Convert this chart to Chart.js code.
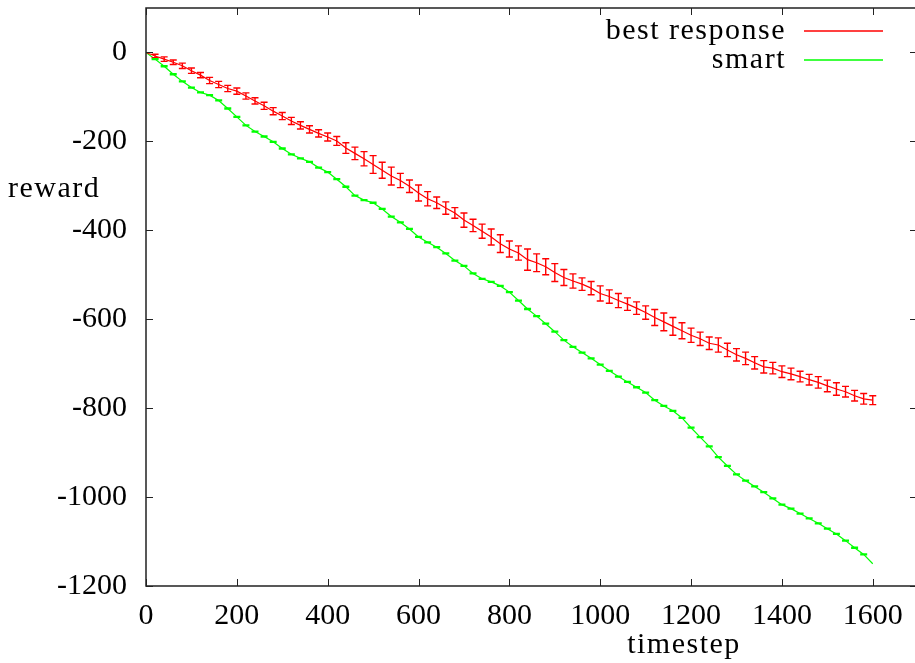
<!DOCTYPE html>
<html lang="en">

<head>
    <meta charset="UTF-8" />
    <title>reward vs timestep</title>
    <script src="https://cdn.jsdelivr.net/npm/chart.js"></script>
    <style>
        body {
            margin: 0;
            padding: 0;
            background: #fff;
        }
    </style>
</head>

<body>
    <canvas id="myChart" width="915" height="663"></canvas>

    <script>
        // timesteps sampled every 20
        const timesteps = [
            0, 20, 40, 60, 80, 100, 120, 140, 160, 180,
            200, 220, 240, 260, 280, 300, 320, 340, 360, 380,
            400, 420, 440, 460, 480, 500, 520, 540, 560, 580,
            600, 620, 640, 660, 680, 700, 720, 740, 760, 780,
            800, 820, 840, 860, 880, 900, 920, 940, 960, 980,
            1000, 1020, 1040, 1060, 1080, 1100, 1120, 1140, 1160, 1180,
            1200, 1220, 1240, 1260, 1280, 1300, 1320, 1340, 1360, 1380,
            1400, 1420, 1440, 1460, 1480, 1500, 1520, 1540, 1560, 1580,
            1600
        ];

        const bestResponse = [
            0, -8, -15, -22, -30, -41, -51, -63, -72, -81,
            -87, -98, -109, -120, -132, -143, -154, -164, -173, -182,
            -190, -199, -215, -227, -239, -252, -265, -278, -288, -301,
            -316, -329, -338, -350, -361, -377, -389, -402, -415, -430,
            -442, -451, -466, -473, -482, -495, -506, -514, -521, -530,
            -542, -549, -558, -566, -575, -585, -596, -606, -616, -626,
            -636, -644, -654, -658, -669, -680, -688, -698, -707, -710,
            -718, -723, -729, -736, -742, -750, -757, -763, -772, -779,
            -782
        ];

        const bestResponseErr = [
            0, 4, 5, 5, 6, 6, 6, 7, 7, 7,
            7, 7, 7, 8, 8, 8, 8, 8, 8, 8,
            9, 10, 12, 14, 16, 20, 18, 20, 16, 14,
            18, 16, 13, 14, 12, 16, 14, 16, 18, 20,
            18, 16, 24, 20, 18, 20, 18, 16, 14, 15,
            17, 15, 16, 14, 14, 15, 18, 20, 20, 18,
            16, 15, 14, 16, 15, 14, 14, 14, 14, 13,
            13, 13, 12, 12, 13, 13, 14, 12, 12, 12,
            10
        ];

        const smart = [
            0, -15, -31, -49, -65, -79, -90, -96, -108, -126,
            -145, -164, -178, -189, -201, -216, -229, -238, -246, -259,
            -269, -285, -302, -322, -332, -338, -352, -369, -382, -397,
            -415, -427, -438, -452, -468, -480, -497, -509, -516, -525,
            -539, -558, -577, -593, -610, -628, -647, -662, -675, -688,
            -702, -716, -729, -741, -753, -765, -782, -795, -806, -822,
            -844, -865, -886, -910, -930, -949, -963, -976, -989, -1003,
            -1017, -1026, -1037, -1048, -1059, -1071, -1083, -1098, -1114, -1129,
            -1150
        ];

        const smartErr = [
            0, 1, 1, 1, 1, 1, 1, 1, 1, 1,
            1, 1, 1, 1, 1, 1, 1, 1, 1, 1,
            1, 1, 1, 1, 1, 1, 1, 1, 1, 1,
            1, 1, 1, 1, 1, 1, 1, 1, 1, 1,
            1, 1, 1, 1, 1, 1, 1, 1, 1, 1,
            1, 1, 1, 1, 1, 1, 1, 1, 1, 1,
            1, 1, 1, 1, 1, 1, 1, 1, 1, 1,
            1, 1, 1, 1, 1, 1, 1, 1, 1, 1,
            0
        ];

        const xTicks = [0, 200, 400, 600, 800, 1000, 1200, 1400, 1600];
        const yTicks = [0, -200, -400, -600, -800, -1000, -1200];
        const seriesNames = ["best response", "smart"];

        const FONT = "'Liberation Serif', 'Times New Roman', serif";
        const RED = "#ff0000";
        const GREEN = "#00ff00";

        function toPoints(values) {
            return timesteps.map((t, i) => ({ x: t, y: values[i] }));
        }

        // error bars, drawn through the chart scales
        const errorBars = {
            id: "errorBars",
            afterDatasetsDraw(chart) {
                const ctx = chart.ctx;
                const xs = chart.scales.x;
                const ys = chart.scales.y;
                const errs = [bestResponseErr, smartErr];
                const cap = 3.5;
                ctx.save();
                ctx.lineWidth = 1.4;
                chart.data.datasets.forEach((ds, d) => {
                    ctx.strokeStyle = ds.borderColor;
                    ds.data.forEach((p, i) => {
                        const e = errs[d][i];
                        if (!e) return;
                        const x = xs.getPixelForValue(p.x);
                        const top = ys.getPixelForValue(p.y + e);
                        const bot = ys.getPixelForValue(p.y - e);
                        ctx.beginPath();
                        ctx.moveTo(x, top);
                        ctx.lineTo(x, bot);
                        ctx.moveTo(x - cap, top);
                        ctx.lineTo(x + cap, top);
                        ctx.moveTo(x - cap, bot);
                        ctx.lineTo(x + cap, bot);
                        ctx.stroke();
                    });
                });
                ctx.restore();
            }
        };

        // gnuplot style frame, inward ticks, titles and key
        const frame = {
            id: "frame",
            afterDraw(chart) {
                const ctx = chart.ctx;
                const a = chart.chartArea;
                const xs = chart.scales.x;
                const ys = chart.scales.y;
                const tl = 7;
                ctx.save();
                ctx.strokeStyle = "#222";
                ctx.lineWidth = 1.5;
                ctx.beginPath();
                ctx.moveTo(a.right + 2, a.top);
                ctx.lineTo(a.left, a.top);
                ctx.lineTo(a.left, a.bottom);
                ctx.lineTo(a.right + 2, a.bottom);
                ctx.stroke();

                ctx.lineWidth = 1;
                ctx.beginPath();
                xTicks.forEach((t) => {
                    const x = Math.round(xs.getPixelForValue(t)) + 0.5;
                    ctx.moveTo(x, a.bottom);
                    ctx.lineTo(x, a.bottom - tl);
                    ctx.moveTo(x, a.top);
                    ctx.lineTo(x, a.top + tl);
                });
                yTicks.forEach((v) => {
                    const y = Math.round(ys.getPixelForValue(v)) + 0.5;
                    ctx.moveTo(a.left, y);
                    ctx.lineTo(a.left + tl, y);
                    ctx.moveTo(a.right + 2, y);
                    ctx.lineTo(a.right + 2 - tl, y);
                });
                ctx.stroke();

                ctx.fillStyle = "#000";
                ctx.font = "30px " + FONT;
                ctx.letterSpacing = "1.5px";
                ctx.textBaseline = "alphabetic";
                ctx.textAlign = "left";
                ctx.fillText("reward", 8, 197);
                ctx.textAlign = "center";
                ctx.fillText("timestep", 684, 653);

                // key
                const colors = [RED, GREEN];
                ctx.textAlign = "right";
                seriesNames.forEach((name, i) => {
                    const base = 39 + i * 29;
                    ctx.fillStyle = "#000";
                    ctx.fillText(name, 786, base);
                    ctx.strokeStyle = colors[i];
                    ctx.lineWidth = 1.4;
                    ctx.beginPath();
                    ctx.moveTo(804, base - 8);
                    ctx.lineTo(883, base - 8);
                    ctx.stroke();
                });
                ctx.restore();
            }
        };

        const ctx = document.getElementById("myChart").getContext("2d");
        const myChart = new Chart(ctx, {
            type: "line",
            data: {
                datasets: [
                    {
                        label: seriesNames[0],
                        data: toPoints(bestResponse),
                        borderColor: RED,
                        borderWidth: 1.2,
                        pointRadius: 0,
                        tension: 0,
                    },
                    {
                        label: seriesNames[1],
                        data: toPoints(smart),
                        borderColor: GREEN,
                        borderWidth: 1.2,
                        pointRadius: 0,
                        tension: 0,
                    },
                ],
            },
            options: {
                responsive: false,
                animation: false,
                layout: { padding: { top: 8, left: 0, right: 0, bottom: 0 } },
                plugins: {
                    legend: { display: false },
                    tooltip: { enabled: false },
                },
                scales: {
                    x: {
                        type: "linear",
                        min: 0,
                        max: 1693,
                        grid: { display: false, drawTicks: false },
                        border: { display: false },
                        ticks: {
                            color: "#000",
                            padding: 12,
                            maxRotation: 0,
                            font: { family: FONT, size: 30 },
                            callback: (v) => String(v),
                        },
                        afterBuildTicks(scale) {
                            scale.ticks = xTicks.map((v) => ({ value: v }));
                        },
                        afterFit(scale) {
                            scale.height = 77;
                            scale.paddingLeft = 0;
                            scale.paddingRight = 0;
                        },
                    },
                    y: {
                        type: "linear",
                        min: -1200,
                        max: 100,
                        grid: { display: false, drawTicks: false },
                        border: { display: false },
                        ticks: {
                            color: "#000",
                            padding: 19,
                            font: { family: FONT, size: 30 },
                            callback: (v) => String(v),
                        },
                        afterBuildTicks(scale) {
                            scale.ticks = yTicks.map((v) => ({ value: v }));
                        },
                        afterFit(scale) {
                            scale.width = 146;
                            scale.paddingTop = 0;
                            scale.paddingBottom = 0;
                        },
                    },
                },
            },
            plugins: [errorBars, frame],
        });
    </script>
</body>

</html>
